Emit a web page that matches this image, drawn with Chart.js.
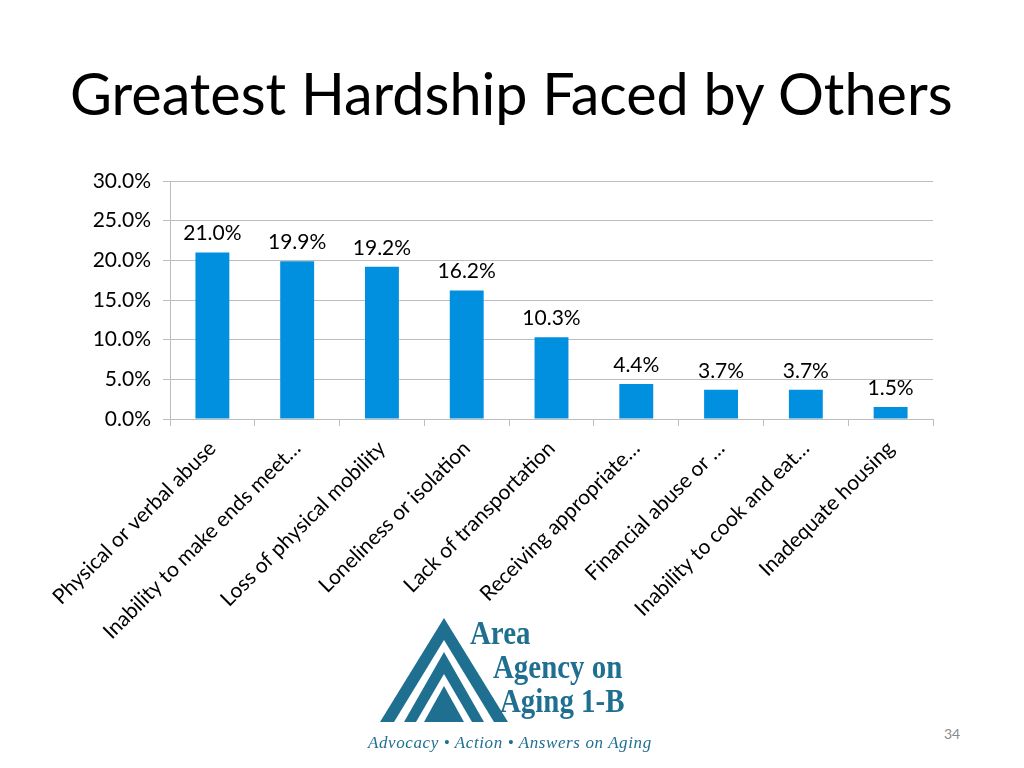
<!DOCTYPE html>
<html>
<head>
<meta charset="utf-8">
<script src="https://cdn.jsdelivr.net/npm/chart.js@4/dist/chart.umd.min.js"></script>
<style>
  html,body{margin:0;padding:0;background:#fff;width:1024px;height:768px;overflow:hidden;}
  #title{position:absolute;left:70px;top:64px;font-family:Lato,"Open Sans",sans-serif;font-size:57.5px;line-height:1;color:#000;white-space:nowrap;}
  #wrap{position:absolute;left:0;top:150px;width:1024px;height:510px;}
  #page{position:absolute;left:944px;top:725px;font-family:Lato,sans-serif;font-size:14px;color:#8a8a8a;}
  #logo{position:absolute;left:360px;top:612px;width:320px;height:150px;}
  .lt{position:absolute;font-family:"Liberation Serif","DejaVu Serif",serif;font-weight:bold;color:#1f6f91;white-space:nowrap;transform-origin:0 0;line-height:1;}
  #tag{position:absolute;left:8px;top:122px;font-family:"Liberation Serif",serif;font-style:italic;font-size:17px;color:#1f6f91;letter-spacing:0.6px;white-space:nowrap;line-height:1;}
</style>
</head>
<body>
<div id="title">Greatest Hardship Faced by Others</div>
<div id="wrap"><canvas id="c"></canvas></div>
<div id="logo">
  <svg width="160" height="115" style="position:absolute;left:0;top:0">
    <polygon points="20,110 84,6 148,110" fill="#1f6f91"/>
    <polygon points="34,110 84,28 134,110" fill="#fff"/>
    <polygon points="44,110 84,40 124,110" fill="#1f6f91"/>
    <polygon points="56,110 84,62 112,110" fill="#fff"/>
    <polygon points="64,110 84,74 104,110" fill="#1f6f91"/>
  </svg>
  <div class="lt" style="left:110px;top:4px;font-size:34px;transform:scaleX(0.85)">Area</div>
  <div class="lt" style="left:133px;top:38px;font-size:34px;transform:scaleX(0.85)">Agency on</div>
  <div class="lt" style="left:140px;top:72px;font-size:34px;transform:scaleX(0.85)">Aging 1-B</div>
  <div id="tag">Advocacy • Action • Answers on Aging</div>
</div>
<div id="page">34</div>
<script>
const categories = [
  "Physical or verbal abuse",
  "Inability to make ends meet…",
  "Loss of physical mobility",
  "Loneliness or isolation",
  "Lack of transportation",
  "Receiving appropriate…",
  "Financial abuse or …",
  "Inability to cook and eat…",
  "Inadequate housing"
];
const values = [21.0, 19.9, 19.2, 16.2, 10.3, 4.4, 3.7, 3.7, 1.5];
const yTicks = [0, 5, 10, 15, 20, 25, 30];

const FONT = 'Lato, "Open Sans", sans-serif';

const valueLabels = {
  id: 'valueLabels',
  afterDatasetsDraw(chart) {
    const ctx = chart.ctx;
    const meta = chart.getDatasetMeta(0);
    ctx.save();
    ctx.font = '21px ' + FONT;
    ctx.fillStyle = '#000';
    ctx.textAlign = 'center';
    ctx.textBaseline = 'alphabetic';
    meta.data.forEach((bar, i) => {
      ctx.fillText(values[i].toFixed(1) + '%', bar.x, bar.y - 12);
    });
    ctx.restore();
  }
};

new Chart(document.getElementById('c'), {
  type: 'bar',
  data: {
    labels: categories,
    datasets: [{
      data: values,
      backgroundColor: '#0090df',
      categoryPercentage: 1.0,
      barPercentage: 0.4
    }]
  },
  options: {
    responsive: true,
    maintainAspectRatio: false,
    animation: false,
    layout: { padding: { left: 20, right: 91, top: 31, bottom: 0 } },
    plugins: { legend: { display: false }, tooltip: { enabled: false } },
    scales: {
      x: {
        grid: { offset: true, drawOnChartArea: false, tickLength: 7, color: '#bdbdbd' },
        border: { color: '#bdbdbd' },
        ticks: { autoSkip: false, minRotation: 45, maxRotation: 45, color: '#000', font: { size: 21, family: FONT }, padding: 10 },
        afterFit(s) { s.height = 241; }
      },
      y: {
        min: 0, max: 30,
        afterBuildTicks(s) { s.ticks = yTicks.map(v => ({ value: v })); },
        grid: { tickLength: 7, color: '#bdbdbd' },
        border: { color: '#bdbdbd' },
        ticks: { color: '#000', font: { size: 21, family: FONT }, padding: 12,
          callback: v => Number(v).toFixed(1) + '%' },
        afterFit(s) { s.width = 150; }
      }
    }
  },
  plugins: [valueLabels]
});
</script>
</body>
</html>
